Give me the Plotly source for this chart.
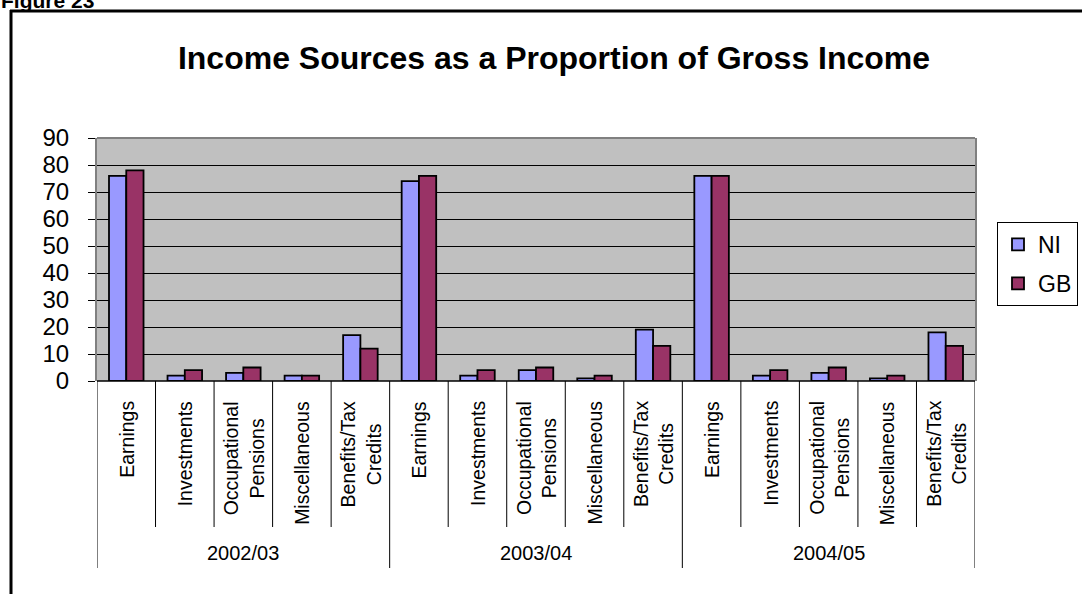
import plotly.graph_objects as go

years = ["2002/03", "2003/04", "2004/05"]
sources = ["Earnings", "Investments", "Occupational<br>Pensions", "Miscellaneous", "Benefits/Tax<br>Credits"]
ni_values = [76, 2, 3, 2, 17, 74, 2, 4, 1, 19, 76, 2, 3, 1, 18]
gb_values = [78, 4, 5, 2, 12, 76, 4, 5, 2, 13, 76, 4, 5, 2, 13]
y_ticks = [0, 10, 20, 30, 40, 50, 60, 70, 80, 90]

W, H = 1082, 594
L, R, T, B = 97, 107, 138, 213
PW, PH = W - L - R, H - T - B

def px_x(p):
    return (p - L) / PW

def px_y(p):
    return (H - B - p) / PH

FONT = "Liberation Sans, Arial, sans-serif"
n = len(years) * len(sources)
xs = list(range(n))

fig = go.Figure()
fig.add_trace(go.Bar(x=xs, y=ni_values, name="NI", legendgroup="a",
                     marker=dict(color="#9999FF", line=dict(color="black", width=1.8))))
fig.add_trace(go.Bar(x=xs, y=gb_values, name="GB", legendgroup="b",
                     marker=dict(color="#993366", line=dict(color="black", width=1.8))))

annotations = []
shapes = []
for i in range(n):
    annotations.append(dict(x=i, xref="x", y=px_y(399), yref="paper", text=sources[i % len(sources)],
                            textangle=-90, xanchor="center", yanchor="top", showarrow=False,
                            align="center", font=dict(family=FONT, size=19.5, color="black")))
for b in range(n + 1):
    xb = b - 0.5
    outer = (b % len(sources) == 0)
    shapes.append(dict(type="line", xref="x", yref="paper", x0=xb, x1=xb,
                       y0=0, y1=px_y(568 if outer else 527),
                       line=dict(color="black", width=1)))
for j, yr in enumerate(years):
    annotations.append(dict(x=j * len(sources) + 2, xref="x", y=px_y(553), yref="paper", text=yr,
                            xanchor="center", yanchor="middle", showarrow=False,
                            font=dict(family=FONT, size=20, color="black")))

# Figure label (partly cut off at the top, as in the source)
annotations.append(dict(x=px_x(-1), xref="paper", y=px_y(14), yref="paper", text="Figure 23",
                        xanchor="left", yanchor="bottom", showarrow=False,
                        font=dict(family=FONT, size=21, color="black", weight="bold")))

# outer frame lines
shapes.append(dict(type="line", xref="paper", yref="paper", x0=px_x(10), x1=px_x(1090),
                   y0=px_y(11), y1=px_y(11), line=dict(color="black", width=3)))
shapes.append(dict(type="line", xref="paper", yref="paper", x0=px_x(11), x1=px_x(11),
                   y0=px_y(10), y1=px_y(600), line=dict(color="black", width=3)))
# plot frame
shapes.append(dict(type="line", xref="paper", yref="paper", x0=0, x1=1, y0=1, y1=1,
                   line=dict(color="#808080", width=2), layer="above"))
shapes.append(dict(type="line", xref="paper", yref="paper", x0=0, x1=1, y0=0, y1=0,
                   line=dict(color="black", width=1.5), layer="above"))

fig.update_layout(
    width=W, height=H,
    margin=dict(l=L, r=R, t=T, b=B, autoexpand=False),
    paper_bgcolor="white",
    plot_bgcolor="#C0C0C0",
    barmode="group", bargap=0.41, bargroupgap=0,
    title=dict(text="Income Sources as a Proportion of Gross Income",
               x=554 / W, xanchor="center", y=1 - 58 / H, yanchor="middle",
               font=dict(family=FONT, size=32, color="black", weight="bold")),
    showlegend=True,
    legend=dict(x=px_x(997), y=px_y(222), xanchor="left", yanchor="top",
                bordercolor="black", borderwidth=1, bgcolor="white",
                font=dict(family=FONT, size=23, color="black"),
                traceorder="grouped", tracegroupgap=6, itemwidth=30),
    xaxis=dict(range=[-0.5, n - 0.5], showticklabels=False, showgrid=False,
               zeroline=False, showline=False, ticks=""),
    yaxis=dict(range=[0, 90], tickvals=y_ticks, ticks="outside", ticklen=7,
               tickcolor="black", tickwidth=1, showgrid=True, gridcolor="black",
               gridwidth=1, zeroline=False, showline=True, linecolor="#808080",
               linewidth=2, mirror=True, ticklabelstandoff=14,
               tickfont=dict(family=FONT, size=24, color="black")),
    annotations=annotations,
    shapes=shapes,
)

fig.write_html("out.html")
